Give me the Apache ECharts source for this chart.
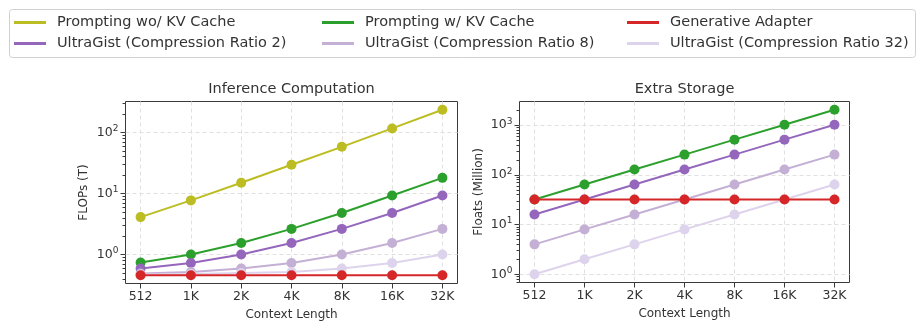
<!DOCTYPE html>
<html>
<head>
<meta charset="utf-8">
<script src="https://cdn.jsdelivr.net/npm/echarts@6/dist/echarts.min.js"></script>
<style>html,body{margin:0;padding:0;background:#fff;}#chart{width:917px;height:323px;}</style>
</head>
<body>
<div id="chart"></div>
<script>
// ---- data ----
const contextLabels = ['512', '1K', '2K', '4K', '8K', '16K', '32K'];
const seriesNames = [
  'Prompting wo/ KV Cache', 'Prompting w/ KV Cache', 'Generative Adapter',
  'UltraGist (Compression Ratio 2)', 'UltraGist (Compression Ratio 8)', 'UltraGist (Compression Ratio 32)'
];
// Inference computation (FLOPs, T)
const flopsNoKV = [4.1, 7.7, 15, 29.5, 58, 116, 234];
const flopsKV = [0.74, 1.0, 1.55, 2.63, 4.8, 9.27, 18.0];
const flopsGA = [0.458, 0.458, 0.458, 0.458, 0.458, 0.458, 0.458];
const flopsCR2 = [0.59, 0.73, 1.0, 1.55, 2.63, 4.8, 9.27];
const flopsCR8 = [0.49, 0.52, 0.59, 0.73, 1.0, 1.55, 2.63];
const flopsCR32 = [0.47, 0.48, 0.50, 0.52, 0.59, 0.73, 1.0];
// Extra storage (Floats, Million)
const storeKV = [32, 64, 128, 256, 512, 1024, 2048];
const storeGA = [32, 32, 32, 32, 32, 32, 32];
const storeCR2 = [16, 32, 64, 128, 256, 512, 1024];
const storeCR8 = [4, 8, 16, 32, 64, 128, 256];
const storeCR32 = [1, 2, 4, 8, 16, 32, 64];
// axis ranges / ticks
const flopsRange = [0.336, 320];
const storeRange = [0.683, 2998];
const flopsMajor = [1, 10, 100];
const storeMajor = [1, 10, 100, 1000];

// ---- styles ----
const colors = ['#bcbd22', '#2ca02c', '#d62728', '#9467bd', '#c5b0d5', '#ded3ec'];
const textColor = '#333';
const spineColor = '#3a3a3a';
const gridLine = { show: true, lineStyle: { color: '#e0e0e0', type: [4, 3], width: 1 } };
const FONT = 'DejaVu Sans';

function minorTicks(range) {
  const out = [];
  const lo = Math.floor(Math.log10(range[0])), hi = Math.ceil(Math.log10(range[1]));
  for (let e = lo; e < hi; e++) {
    for (let m = 2; m <= 9; m++) {
      const v = m * Math.pow(10, e);
      if (v >= range[0] && v <= range[1]) out.push(Math.log10(v));
    }
  }
  return out;
}

const grids = [
  { left: 125.5, top: 101.5, width: 332, height: 182 },
  { left: 519.5, top: 101.5, width: 330, height: 181 }
];

function xAxis(gi) {
  return {
    type: 'value', gridIndex: gi, min: -0.3, max: 6.3,
    axisLine: { show: false, onZero: false },
    axisTick: { show: true, customValues: [0, 1, 2, 3, 4, 5, 6], length: 5, lineStyle: { color: spineColor, width: 1 } },
    axisLabel: { customValues: [0, 1, 2, 3, 4, 5, 6], formatter: v => contextLabels[Math.round(v)], margin: 7, fontSize: 12.5, color: textColor, fontFamily: FONT },
    splitLine: gridLine,
    name: 'Context Length', nameLocation: 'middle', nameGap: 24,
    nameTextStyle: { fontSize: 12, color: textColor, fontFamily: FONT }
  };
}

function logY(gi, range, name, gap) {
  return {
    type: 'log', logBase: 10, gridIndex: gi, min: range[0], max: range[1],
    axisLine: { show: false },
    axisTick: { show: false },
    axisLabel: {
      showMinLabel: false, showMaxLabel: false, margin: 7,
      formatter: v => '{b|10}{s|' + Math.round(Math.log10(v)) + '}',
      rich: {
        b: { fontSize: 12.5, color: textColor, fontFamily: FONT, lineHeight: 16 },
        s: { fontSize: 9, color: textColor, fontFamily: FONT, verticalAlign: 'top', lineHeight: 11 }
      }
    },
    splitLine: { show: false },
    name: name, nameLocation: 'middle', nameGap: gap,
    nameTextStyle: { fontSize: 12, color: textColor, fontFamily: FONT }
  };
}

function tickY(gi, range, values, len, withGrid) {
  return {
    type: 'value', gridIndex: gi, position: 'left',
    min: Math.log10(range[0]), max: Math.log10(range[1]),
    axisLine: { show: false }, axisLabel: { show: false },
    splitLine: withGrid ? gridLine : { show: false },
    axisTick: { show: true, customValues: values, length: len, lineStyle: { color: spineColor, width: 1 } }
  };
}

function line(name, idx, gi, yi, values, z) {
  return {
    type: 'line', name: name, xAxisIndex: gi, yAxisIndex: yi,
    data: values.map((v, i) => [i, v]),
    symbol: 'circle', symbolSize: 10, showSymbol: true,
    itemStyle: { color: colors[idx] },
    lineStyle: { color: colors[idx], width: 2 },
    z: z || 2, animation: false, emphasis: { disabled: true }
  };
}

function legendCol(left, names) {
  return {
    orient: 'vertical', left: left, top: 14.5, padding: 0, itemGap: 5,
    itemWidth: 32, itemHeight: 3, icon: 'rect',
    data: names,
    textStyle: { fontSize: 14.5, color: textColor, fontFamily: FONT, lineHeight: 16, padding: [0, 0, 0, 6] },
    selectedMode: false
  };
}

const option = {
  backgroundColor: '#fff',
  animation: false,
  textStyle: { fontFamily: FONT },
  grid: grids.map(g => Object.assign({ show: true, borderColor: spineColor, borderWidth: 1, backgroundColor: 'transparent', containLabel: false, outerBoundsMode: 'none' }, g)),
  xAxis: [xAxis(0), xAxis(1)],
  yAxis: [
    logY(0, flopsRange, 'FLOPs (T)', 36),
    logY(1, storeRange, 'Floats (Million)', 35),
    tickY(0, flopsRange, flopsMajor.map(Math.log10), 5, true),
    tickY(0, flopsRange, minorTicks(flopsRange), 3, false),
    tickY(1, storeRange, storeMajor.map(Math.log10), 5, true),
    tickY(1, storeRange, minorTicks(storeRange), 3, false)
  ],
  legend: [
    legendCol(14, [seriesNames[0], seriesNames[3]]),
    legendCol(322, [seriesNames[1], seriesNames[4]]),
    legendCol(627, [seriesNames[2], seriesNames[5]])
  ],
  graphic: [
    { type: 'rect', shape: { x: 9.5, y: 9.5, width: 906, height: 48, r: 3 }, style: { fill: 'none', stroke: '#d0d0d0', lineWidth: 1 }, z: -1, silent: true },
    { type: 'text', x: 291.5, y: 89, style: { text: 'Inference Computation', align: 'center', verticalAlign: 'middle', fontSize: 14.5, fill: textColor, fontFamily: FONT }, silent: true },
    { type: 'text', x: 684.5, y: 89, style: { text: 'Extra Storage', align: 'center', verticalAlign: 'middle', fontSize: 14.5, fill: textColor, fontFamily: FONT }, silent: true }
  ],
  series: [
    line(seriesNames[0], 0, 0, 0, flopsNoKV),
    line(seriesNames[1], 1, 0, 0, flopsKV),
    line(seriesNames[3], 3, 0, 0, flopsCR2),
    line(seriesNames[4], 4, 0, 0, flopsCR8),
    line(seriesNames[5], 5, 0, 0, flopsCR32),
    line(seriesNames[2], 2, 0, 0, flopsGA, 3),
    line(seriesNames[1], 1, 1, 1, storeKV),
    line(seriesNames[3], 3, 1, 1, storeCR2),
    line(seriesNames[4], 4, 1, 1, storeCR8),
    line(seriesNames[5], 5, 1, 1, storeCR32),
    line(seriesNames[2], 2, 1, 1, storeGA, 3)
  ]
};

const chart = echarts.init(document.getElementById('chart'), null, { renderer: 'canvas' });
chart.setOption(option);
</script>
</body>
</html>
